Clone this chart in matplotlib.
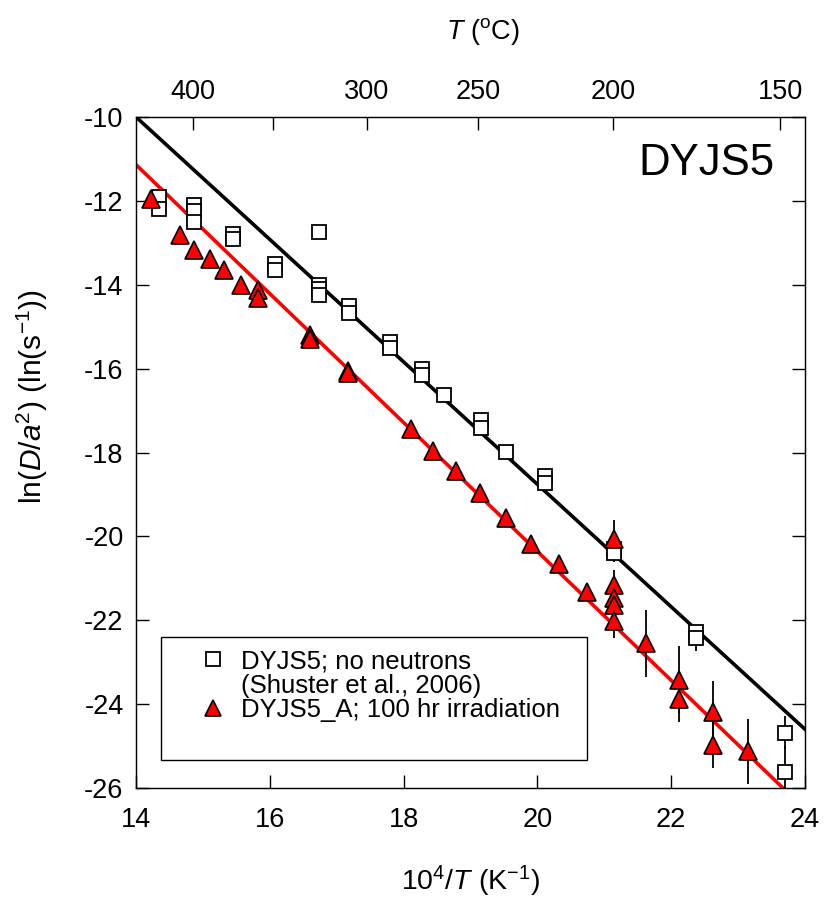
import numpy as np
import matplotlib
matplotlib.use("Agg")
import matplotlib.pyplot as plt
from matplotlib.patches import Rectangle
from matplotlib.lines import Line2D

plt.rcParams['font.family'] = ['Liberation Sans', 'DejaVu Sans']
plt.rcParams['mathtext.fontset'] = 'custom'
plt.rcParams['mathtext.rm'] = 'Liberation Sans'
plt.rcParams['mathtext.it'] = 'Liberation Sans:italic'
plt.rcParams['axes.unicode_minus'] = False

# --- data: no neutrons (squares) ---
sq_x = [14.34, 14.34, 14.87, 14.87, 14.87, 15.45, 15.45, 16.08, 16.08, 16.74, 16.74, 16.74, 16.74,
        17.18, 17.18, 17.80, 17.80, 18.27, 18.27, 18.61, 19.16, 19.16, 19.53, 20.11, 20.11,
        21.15, 21.15, 22.37, 22.37, 23.70, 23.70]
sq_y = [-11.9, -12.2, -12.1, -12.25, -12.5, -12.8, -12.9, -13.5, -13.65, -12.75, -14.0, -14.1, -14.25,
        -14.5, -14.67, -15.36, -15.5, -16.0, -16.15, -16.64, -17.22, -17.42, -17.99, -18.55, -18.73,
        -20.3, -20.4, -22.27, -22.43, -24.68, -25.61]
sq_err = [0, 0, 0, 0, 0, 0, 0, 0, 0, 0, 0, 0, 0,
          0, 0, 0, 0, 0, 0, 0, 0, 0, 0, 0, 0,
          0.1, 0.2, 0.1, 0.3, 0.4, 0.6]

# --- data: 100 hr irradiation (triangles) ---
tr_x = [14.23, 14.65, 14.87, 15.10, 15.32, 15.57, 15.83, 15.83, 16.60, 16.60, 17.17, 17.17,
        18.11, 18.44, 18.79, 19.14, 19.53, 19.91, 20.32, 20.74,
        21.15, 21.15, 21.15, 21.15, 21.15, 21.63, 22.12, 22.12, 22.62, 22.62, 23.15]
tr_y = [-11.95, -12.81, -13.16, -13.39, -13.65, -14.0, -14.13, -14.32, -15.2, -15.3, -16.05, -16.1,
        -17.45, -17.96, -18.43, -18.97, -19.57, -20.18, -20.67, -21.33,
        -20.07, -21.15, -21.48, -21.64, -22.03, -22.55, -23.42, -23.88, -24.18, -24.97, -25.13]
tr_err = [0, 0, 0, 0, 0, 0, 0, 0, 0, 0, 0, 0,
          0, 0, 0, 0, 0, 0, 0, 0,
          0.45, 0.35, 0.35, 0.35, 0.4, 0.8, 0.8, 0.55, 0.73, 0.56, 0.77]

# Arrhenius fits: ln(D/a^2) = intercept + slope * (1e4/T)
black_fit = (10.44, -1.46)
red_fit = (10.38, -1.537)

top_ticks_C = [400, 350, 300, 250, 200, 150]
top_labels = ['400', '', '300', '250', '200', '150']
x_ticks = [14, 16, 18, 20, 22, 24]
y_ticks = [-10, -12, -14, -16, -18, -20, -22, -24, -26]

fig = plt.figure(figsize=(8.3, 9.05), dpi=100)
ax = fig.add_axes([0.1639, 0.1293, 0.806, 0.7414])

xx = np.linspace(14, 24, 50)
ax.plot(xx, black_fit[0] + black_fit[1] * xx, color='black', lw=2.6, zorder=2)
ax.plot(xx, red_fit[0] + red_fit[1] * xx, color='#ff0000', lw=2.6, zorder=2)

ax.errorbar(sq_x, sq_y, yerr=sq_err, fmt='none', ecolor='black', elinewidth=1.3, capsize=0, zorder=3)
ax.errorbar(tr_x, tr_y, yerr=tr_err, fmt='none', ecolor='black', elinewidth=1.3, capsize=0, zorder=3)
ax.plot(sq_x, sq_y, 's', ms=10.5, mfc='white', mec='black', mew=1.3, zorder=4)
ax.plot(tr_x, tr_y, '^', ms=12.5, mfc='#ff0000', mec='black', mew=1.2, zorder=5)

ax.set_xlim(14, 24)
ax.set_ylim(-26, -10)
ax.set_xticks(x_ticks)
ax.set_yticks(y_ticks)
ax.tick_params(direction='in', length=9.5, width=1, labelsize=19.5,
               right=True, top=False)
ax.tick_params(axis='y', pad=9)
ax.tick_params(axis='x', pad=14)
for s in ax.spines.values():
    s.set_linewidth(1.0)
    s.set_color('#222222')

ax.set_xlabel(r'10$^4$/$\mathit{T}$ (K$^{-1}$)', fontsize=20.5, labelpad=22)
ax.set_ylabel(r'ln($\mathit{D/a}^2$) (ln(s$^{-1}$))', fontsize=21.5)
ax.yaxis.set_label_coords(-0.128, 0.584)

ax2 = ax.twiny()
ax2.set_xlim(ax.get_xlim())
ax2.set_xticks([1e4 / (t + 273.15) for t in top_ticks_C])
ax2.set_xticklabels(top_labels)
ax2.tick_params(direction='in', length=9.5, width=1, labelsize=19.5, pad=9)
ax2.set_xlabel(r'$\mathit{T}$ ($^{\rm o}$C)', fontsize=19.5)
ax2.xaxis.set_label_coords(0.519, 1.117)

ax.text(0.955, 0.931, 'DYJS5', transform=ax.transAxes, fontsize=31.5,
        ha='right', va='center')

ax.add_patch(Rectangle((0.038, 0.0417), 0.636, 0.1838, transform=ax.transAxes,
                       fill=False, edgecolor='black', lw=1.0, zorder=6))
handles = [Line2D([], [], ls='none', marker='s', ms=10, mfc='white', mec='black', mew=1.3),
           Line2D([], [], ls='none'),
           Line2D([], [], ls='none', marker='^', ms=12, mfc='#ff0000', mec='black', mew=1.2)]
labels = ['DYJS5; no neutrons', '(Shuster et al., 2006)', 'DYJS5_A; 100 hr irradiation']
leg = ax.legend(handles, labels, loc='upper left', bbox_to_anchor=(0.096, 0.207),
                frameon=False, fontsize=18.5, handlelength=1.0, handletextpad=0.57,
                labelspacing=0.02, borderpad=0, borderaxespad=0)
leg.set_zorder(7)

fig.savefig('out.png', dpi=100)
